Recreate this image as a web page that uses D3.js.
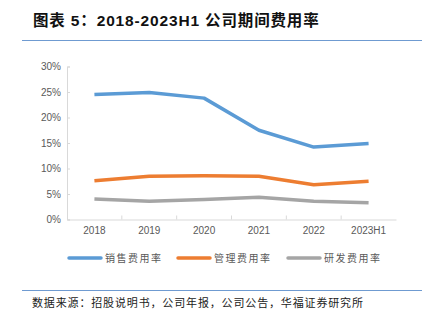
<!DOCTYPE html>
<html><head><meta charset="utf-8">
<script src="https://cdn.jsdelivr.net/npm/d3@7"></script>
<style>body{margin:0;background:#fff}</style>
</head><body>
<svg id="c" width="426" height="328"></svg>
<script>
const categories = ["2018","2019","2020","2021","2022","2023H1"];
const salesRate = [24.5, 24.9, 23.8, 17.5, 14.2, 14.9];
const adminRate = [7.6, 8.5, 8.6, 8.5, 6.8, 7.5];
const rdRate = [4.0, 3.6, 3.9, 4.35, 3.6, 3.3];
const yTicks = [0, 5, 10, 15, 20, 25, 30];
const seriesNames = ["销售费用率", "管理费用率", "研发费用率"];
const colors = ["#5b9bd5", "#ed7d31", "#a5a5a5"];
const series = [salesRate, adminRate, rdRate];

const svg = d3.select("#c");
const cjk = "'Noto Sans CJK SC', sans-serif";
const lat = "'Liberation Sans', Arial, sans-serif";
const mix = "'Liberation Sans', 'Noto Sans CJK SC', sans-serif";

svg.append("text").attr("x", 33).attr("y", 26)
  .attr("font-family", mix).attr("font-weight", "bold").attr("font-size", 15.5)
  .attr("letter-spacing", 0.85)
  .attr("fill", "#111").text("图表 5：2018-2023H1 公司期间费用率");
svg.append("line").attr("x1", 22).attr("x2", 422).attr("y1", 40.5).attr("y2", 40.5)
  .attr("stroke", "#6f9bd1").attr("stroke-width", 1);

const x = d3.scaleBand().domain(categories).range([67, 396]);
const y = d3.scaleLinear().domain([0, 30]).range([219.5, 66.5]);

// y axis
const ya = svg.append("g").attr("transform", "translate(67,0)")
  .call(d3.axisLeft(y).tickValues(yTicks).tickFormat(d => d + "%").tickSize(-3).tickPadding(6));
ya.select(".domain").attr("stroke", "#d9d9d9");
ya.selectAll(".tick line").attr("stroke", "#d9d9d9");
ya.selectAll("text").attr("font-family", lat).attr("font-size", 10).attr("fill", "#595959");

// x axis
const xa = svg.append("g").attr("transform", "translate(0,219.5)")
  .call(d3.axisBottom(x).tickSize(0).tickPadding(7));
xa.select(".domain").attr("stroke", "#d9d9d9");
xa.selectAll("text").attr("font-family", lat).attr("font-size", 10).attr("fill", "#595959");
// inner band-boundary ticks
xa.selectAll(".bt").data(categories.slice(1)).enter().append("line")
  .attr("x1", d => x(d)).attr("x2", d => x(d)).attr("y1", 0).attr("y2", -4)
  .attr("stroke", "#d9d9d9");

const line = d3.line().x((d, i) => x(categories[i]) + x.bandwidth() / 2).y(d => y(d));
series.forEach((s, k) => {
  svg.append("path").datum(s).attr("d", line).attr("fill", "none")
    .attr("stroke", colors[k]).attr("stroke-width", 3.5).attr("stroke-linejoin", "round");
});

// legend
const lx = [69, 178, 288];
seriesNames.forEach((n, k) => {
  svg.append("line").attr("x1", lx[k]).attr("x2", lx[k] + 32).attr("y1", 258).attr("y2", 258)
    .attr("stroke", colors[k]).attr("stroke-width", 3.5).attr("stroke-linecap", "round");
  svg.append("text").attr("x", lx[k] + 36).attr("y", 262).attr("font-family", cjk)
    .attr("font-size", 10).attr("letter-spacing", 1.5).attr("fill", "#595959").text(n);
});

svg.append("line").attr("x1", 22).attr("x2", 422).attr("y1", 290.5).attr("y2", 290.5)
  .attr("stroke", "#6f9bd1").attr("stroke-width", 1);
svg.append("text").attr("x", 32).attr("y", 307).attr("font-family", cjk)
  .attr("font-size", 11).attr("letter-spacing", 0.85).attr("fill", "#222").text("数据来源：招股说明书，公司年报，公司公告，华福证券研究所");
</script>
</body></html>
